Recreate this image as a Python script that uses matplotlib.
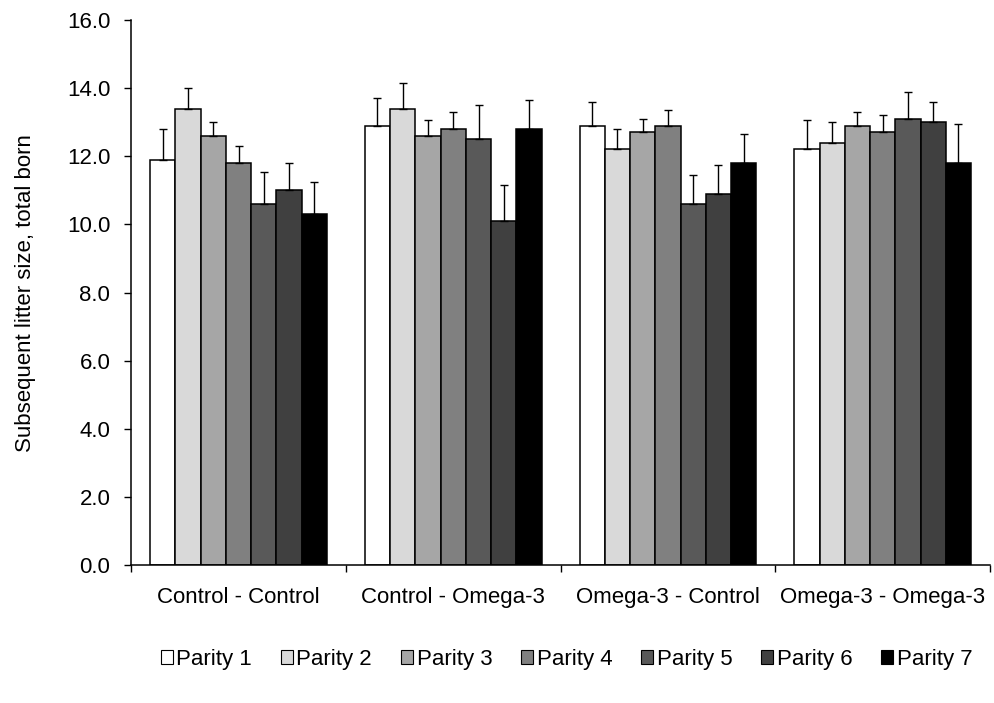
import matplotlib
matplotlib.use("Agg")
import matplotlib.pyplot as plt
import numpy as np
from matplotlib.patches import Patch

plt.rcParams['font.family'] = ['Liberation Sans', 'DejaVu Sans']

groups = ["Control - Control", "Control - Omega-3", "Omega-3 - Control", "Omega-3 - Omega-3"]
series = ["Parity 1", "Parity 2", "Parity 3", "Parity 4", "Parity 5", "Parity 6", "Parity 7"]
values = [
    [11.9, 12.9, 12.9, 12.2],
    [13.4, 13.4, 12.2, 12.4],
    [12.6, 12.6, 12.7, 12.9],
    [11.8, 12.8, 12.9, 12.7],
    [10.6, 12.5, 10.6, 13.1],
    [11.0, 10.1, 10.9, 13.0],
    [10.3, 12.8, 11.8, 11.8],
]
errors = [
    [0.9, 0.8, 0.7, 0.85],
    [0.6, 0.75, 0.6, 0.6],
    [0.4, 0.45, 0.4, 0.4],
    [0.5, 0.5, 0.45, 0.5],
    [0.95, 1.0, 0.85, 0.8],
    [0.8, 1.05, 0.85, 0.6],
    [0.95, 0.85, 0.85, 1.15],
]
colors = ["#ffffff", "#d9d9d9", "#a6a6a6", "#808080", "#595959", "#404040", "#000000"]

fig = plt.figure(figsize=(9.94, 7.03), dpi=100)
ax = fig.add_axes([0.132, 0.196, 0.864, 0.7756])

n = len(series)
bw = 1.0 / (n + 1.5)
x = np.arange(len(groups))
for i in range(n):
    pos = x + (i - (n - 1) / 2) * bw
    ax.bar(pos, values[i], width=bw, color=colors[i], edgecolor="black", linewidth=1.1,
           label=series[i], zorder=2)
    ax.errorbar(pos, values[i], yerr=[np.zeros(len(groups)), errors[i]], fmt="none",
                ecolor="black", elinewidth=1.0, capsize=3, capthick=1.0, zorder=3)

fs = 16
ax.set_xlim(-0.5, len(groups) - 0.5)
ax.set_ylim(0, 16)
ax.set_yticks(np.arange(0, 16.1, 2))
ax.set_yticklabels([f"{v:.1f}" for v in np.arange(0, 16.1, 2)], fontsize=fs)
ax.set_xticks(np.arange(-0.5, len(groups), 1.0))
ax.set_xticklabels([])
ax.set_xticks(x, minor=True)
ax.set_xticklabels(groups, minor=True, fontsize=fs)
ax.tick_params(axis="x", which="minor", length=0, pad=16)
ax.tick_params(axis="x", which="major", direction="out", length=5, width=1)
ax.tick_params(axis="y", direction="out", length=5, width=1, pad=10)
ax.spines["top"].set_visible(False)
ax.spines["right"].set_visible(False)
ax.spines["left"].set_linewidth(1.1)
ax.spines["bottom"].set_linewidth(1.1)
ax.set_ylabel("Subsequent litter size, total born", fontsize=fs, labelpad=22)

handles = [Patch(facecolor=colors[i], edgecolor="black", linewidth=0.8) for i in range(n)]
fig.legend(handles, series, loc="center", bbox_to_anchor=(0.57, 0.062), ncol=n, frameon=False,
           fontsize=fs, handlelength=0.55, handleheight=0.55, handletextpad=0.15, columnspacing=1.3)

fig.savefig("out.png", dpi=100)
